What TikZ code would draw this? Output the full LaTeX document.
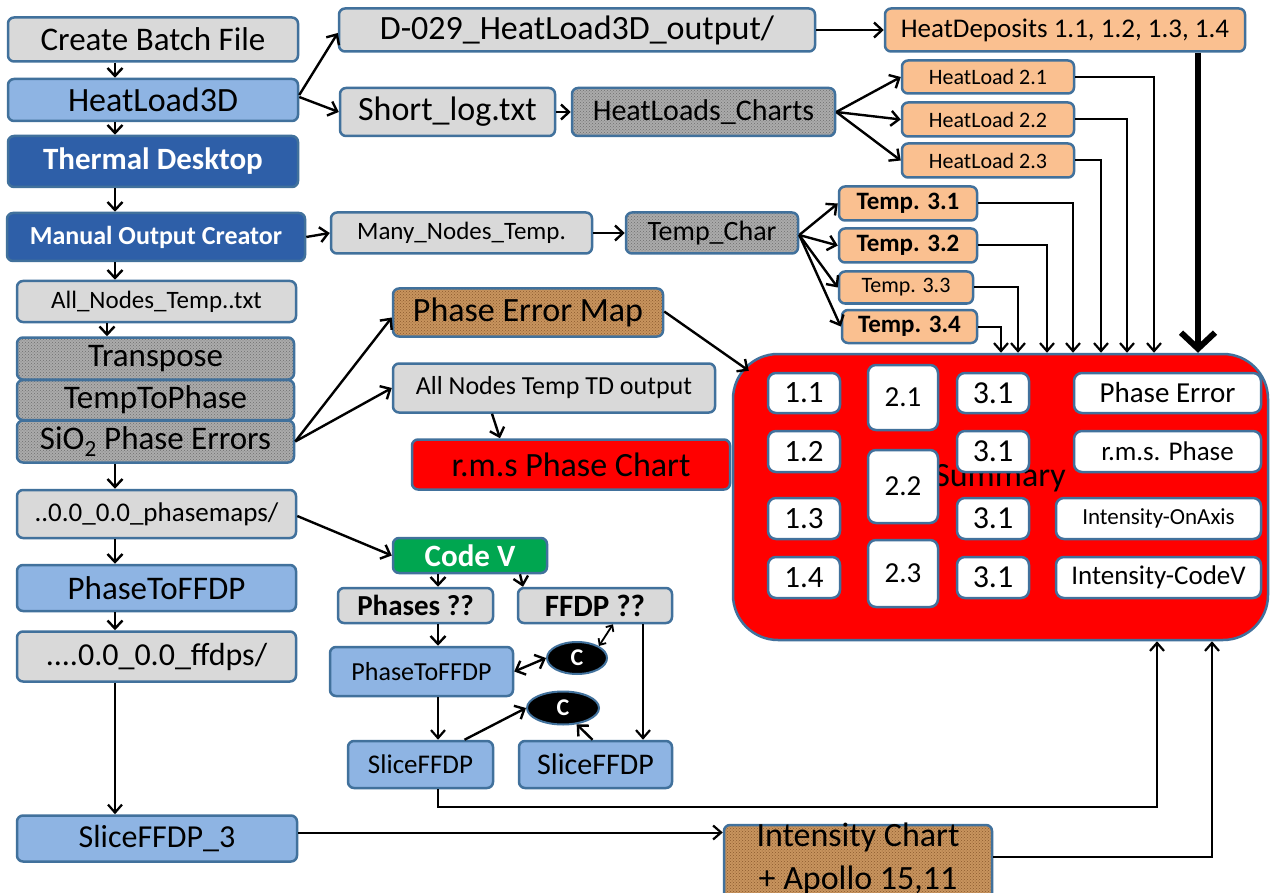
\documentclass[tikz,border=0pt]{standalone}
\usepackage{fontspec}
\setmainfont{Carlito}
\usetikzlibrary{arrows.meta,shapes.geometric,patterns}
\definecolor{bord}{HTML}{41719C}
\definecolor{lgray}{HTML}{D9D9D9}
\definecolor{lblue}{HTML}{8EB4E3}
\definecolor{dblue}{HTML}{2E5FA8}
\definecolor{peach}{HTML}{FAC090}
\definecolor{tgray}{HTML}{ABABAB}
\definecolor{tdots}{HTML}{6E6E6E}
\definecolor{brn}{HTML}{C8945E}
\definecolor{brndots}{HTML}{8A5A2E}
\definecolor{cvgreen}{HTML}{00A650}
\newcommand\fsz[1]{\fontsize{#1}{#1}\selectfont}
\begin{document}
\begin{tikzpicture}[x=1pt,y=-1pt,
  base/.style={draw=bord,line width=2.5pt,rounded corners=6pt,inner sep=0pt,text=black},
  gbox/.style={base,fill=lgray},
  bbox/.style={base,fill=lblue},
  dbox/.style={base,fill=dblue,text=white},
  obox/.style={base,fill=peach},
  tbox/.style={base,preaction={fill=tgray},pattern=crosshatch dots,pattern color=tdots},
  brbox/.style={base,preaction={fill=brn},pattern=crosshatch dots,pattern color=brndots},
  rbox/.style={base,fill=red},
  wbox/.style={base,fill=white,rounded corners=8pt},
  cvbox/.style={base,fill=cvgreen,text=white},
  cel/.style={ellipse,draw=bord,line width=2pt,fill=black,text=white,inner sep=0pt,font=\bfseries\fsz{24}},
  arr/.style={-{Straight Barb[length=8pt,width=15pt,line width=2.4pt]},line width=2.4pt,black},
  darr/.style={{Straight Barb[length=8pt,width=15pt,line width=2.4pt]}-{Straight Barb[length=8pt,width=15pt,line width=2.4pt]},line width=2.4pt,black},
  sarr/.style={-{Straight Barb[length=8pt,width=14pt,line width=2.2pt]},line width=2pt,black},
  thick arr/.style={-{Straight Barb[length=16pt,width=34pt,line width=6pt]},line width=5.5pt,black}]
\useasboundingbox (0,0) rectangle (1274,893);
\fill[white] (0,0) rectangle (1274,893);

% left column
\node[gbox,minimum width=290pt,minimum height=44pt,font=\fsz{33}] (cbf) at (153,39.5) {Create Batch File};
\node[bbox,minimum width=290pt,minimum height=42pt,font=\fsz{34}] (hl3d) at (153,100) {HeatLoad3D};
\node[dbox,minimum width=290pt,minimum height=51pt,font=\bfseries\fsz{31}] (td) at (153,161.5) {Thermal Desktop};
\node[dbox,minimum width=298pt,minimum height=48pt,font=\bfseries\fsz{26}] (moc) at (156,237) {Manual Output Creator};
\node[gbox,minimum width=279pt,minimum height=41pt,font=\fsz{25}] (ant) at (156.5,301.5) {All\_Nodes\_Temp..txt};
\node[tbox,minimum width=277pt,minimum height=42pt,font=\fsz{33}] (trans) at (155.5,358.5) {Transpose};
\node[tbox,minimum width=277pt,minimum height=40pt,font=\fsz{33}] (t2p) at (155.5,400) {TempToPhase};
\node[tbox,minimum width=277pt,minimum height=42pt,font=\fsz{33}] (sio) at (155.5,441.5) {SiO\textsubscript{2} Phase Errors};
\node[gbox,minimum width=279pt,minimum height=48pt,font=\fsz{27}] (pm) at (156.5,514) {..0.0\_0.0\_phasemaps/};
\node[bbox,minimum width=279pt,minimum height=46pt,font=\fsz{33}] (p2f) at (156.5,588) {PhaseToFFDP};
\node[gbox,minimum width=279pt,minimum height=50pt,font=\fsz{32}] (ffd) at (156.5,656.5) {....0.0\_0.0\_ffdps/};
\node[bbox,minimum width=280pt,minimum height=46pt,font=\fsz{32}] (sf3) at (157,838.5) {SliceFFDP\_3};

% top middle
\node[gbox,minimum width=476pt,minimum height=43pt,font=\fsz{34}] (d029) at (577,30) {D-029\_HeatLoad3D\_output/};
\node[gbox,minimum width=215pt,minimum height=48pt,font=\fsz{34}] (slog) at (447.5,112) {Short\_log.txt};
\node[tbox,minimum width=263pt,minimum height=48pt,font=\fsz{30}] (hlc) at (703.5,112) {HeatLoads\_Charts};
\node[gbox,minimum width=261pt,minimum height=41pt,font=\fsz{25}] (mnt) at (461.5,233) {Many\_Nodes\_Temp.};
\node[tbox,minimum width=172pt,minimum height=41pt,font=\fsz{28}] (tch) at (712,233) {Temp\_Char};

% top right
\node[obox,minimum width=360pt,minimum height=43pt,font=\fsz{27}] (hd) at (1065,30) {HeatDeposits 1.1, 1.2, 1.3, 1.4};
\node[obox,minimum width=172pt,minimum height=33pt,font=\fsz{22}] (hl21) at (988,77) {HeatLoad 2.1};
\node[obox,minimum width=172pt,minimum height=34pt,font=\fsz{22}] (hl22) at (988,119.5) {HeatLoad 2.2};
\node[obox,minimum width=172pt,minimum height=34pt,font=\fsz{22}] (hl23) at (988,160.5) {HeatLoad 2.3};
\node[obox,minimum width=138pt,minimum height=34pt,font=\bfseries\fsz{25}] (t31) at (908,203.5) {Temp. 3.1};
\node[obox,minimum width=138pt,minimum height=34pt,font=\bfseries\fsz{25}] (t32) at (908,245.5) {Temp. 3.2};
\node[obox,minimum width=134pt,minimum height=32pt,font=\fsz{22}] (t33) at (906,287.5) {Temp. 3.3};
\node[obox,minimum width=135pt,minimum height=33pt,font=\bfseries\fsz{25}] (t34) at (909.5,326.5) {Temp. 3.4};

% middle
\node[brbox,minimum width=270pt,minimum height=48pt,font=\fsz{34}] (pem) at (528,312.5) {Phase Error Map};
\node[gbox,minimum width=322pt,minimum height=49pt,font=\fsz{26}] (antd) at (554,388) {All Nodes Temp TD output};
\node[rbox,minimum width=318pt,minimum height=50pt,font=\fsz{34}] (rms) at (571,464.5) {r.m.s Phase Chart};

% summary
\node[base,fill=red,rounded corners=45pt,minimum width=535pt,minimum height=286pt] (sum) at (1000.5,497) {};
\node[font=\fsz{34},inner sep=0pt] (suml) at (1000,478) {Summary};
\node[wbox,minimum width=72pt,minimum height=40pt,font=\fsz{31}] (s11) at (804,393) {1.1};
\node[wbox,minimum width=72pt,minimum height=41pt,font=\fsz{31}] (s12) at (804,451.5) {1.2};
\node[wbox,minimum width=72pt,minimum height=41pt,font=\fsz{31}] (s13) at (804,518.5) {1.3};
\node[wbox,minimum width=72pt,minimum height=41pt,font=\fsz{31}] (s14) at (804,577.5) {1.4};
\node[wbox,minimum width=70pt,minimum height=65pt,font=\fsz{29}] (s21) at (903,397.5) {2.1};
\node[wbox,minimum width=70pt,minimum height=73pt,font=\fsz{29}] (s22) at (903,486.5) {2.2};
\node[wbox,minimum width=70pt,minimum height=67pt,font=\fsz{29}] (s23) at (903,573.5) {2.3};
\node[wbox,minimum width=72pt,minimum height=40pt,font=\fsz{32}] (s31) at (993,393) {3.1};
\node[wbox,minimum width=72pt,minimum height=41pt,font=\fsz{32}] (s32) at (993,451.5) {3.1};
\node[wbox,minimum width=72pt,minimum height=41pt,font=\fsz{32}] (s33) at (993,518.5) {3.1};
\node[wbox,minimum width=72pt,minimum height=41pt,font=\fsz{32}] (s34) at (993,577.5) {3.1};
\node[wbox,minimum width=187pt,minimum height=40pt,font=\fsz{29}] (spe) at (1167.5,393) {Phase Error};
\node[wbox,minimum width=187pt,minimum height=41pt,font=\fsz{27}] (srms) at (1167.5,451.5) {r.m.s. Phase};
\node[wbox,minimum width=205pt,minimum height=41pt,font=\fsz{23}] (sona) at (1158.5,518.5) {Intensity-OnAxis};
\node[wbox,minimum width=205pt,minimum height=41pt,font=\fsz{27}] (scv) at (1158.5,577.5) {Intensity-CodeV};

% Code V cluster
\node[cvbox,minimum width=154pt,minimum height=35pt,font=\bfseries\fsz{31}] (cv) at (470,555.5) {Code V};
\node[gbox,minimum width=155pt,minimum height=35pt,font=\bfseries\fsz{29}] (ph) at (415.5,605.5) {Phases ??};
\node[gbox,minimum width=154pt,minimum height=35pt,font=\bfseries\fsz{31}] (ff) at (595,605.5) {FFDP ??};
\node[bbox,minimum width=183pt,minimum height=49pt,font=\fsz{26}] (p2fs) at (421.5,671.5) {PhaseToFFDP};
\node[cel,minimum width=60pt,minimum height=32pt] (c1) at (577,658) {C};
\node[cel,minimum width=72pt,minimum height=33pt] (c2) at (563,708) {C};
\node[bbox,minimum width=145pt,minimum height=47pt,font=\fsz{27}] (sfl) at (420.5,764.5) {SliceFFDP};
\node[bbox,minimum width=153pt,minimum height=47pt,font=\fsz{30}] (sfr) at (595.5,764.5) {SliceFFDP};

% intensity chart
\node[brbox,minimum width=268pt,minimum height=80pt] (ic) at (858,865) {};
\node[align=center,inner sep=0pt,font=\fontsize{34}{43}\selectfont] (icl) at (858,858.5) {Intensity Chart\\+ Apollo 15,11};

% helper coordinates
\coordinate (lx) at (115,0);
\coordinate (lx2) at (107,0);
\coordinate (cl) at (438,0);
\coordinate (cr) at (643,0);
\coordinate (a1) at (1001,0);
\coordinate (a2) at (1018,0);
\coordinate (a3) at (1047,0);
\coordinate (a4) at (1073,0);
\coordinate (a5) at (1101,0);
\coordinate (a6) at (1127,0);
\coordinate (a7) at (1154,0);
\coordinate (a8) at (1198,0);
\coordinate (b1) at (1157,807);
\coordinate (b2) at (1212,0);

% left column arrows
\draw[arr] (cbf.south -| lx) -- (hl3d.north -| lx);
\draw[arr] (hl3d.south -| lx) -- (td.north -| lx);
\draw[arr] (td.south -| lx) -- (moc.north -| lx);
\draw[arr] (moc.south -| lx) -- (ant.north -| lx);
\draw[arr] (ant.south -| lx2) -- (trans.north -| lx2);
\draw[arr] (sio.south -| lx) -- (pm.north -| lx);
\draw[arr] (pm.south -| lx) -- (p2f.north -| lx);
\draw[arr] (p2f.south -| lx) -- (ffd.north -| lx);
\draw[sarr] (ffd.south -| lx) -- (sf3.north -| lx);

% top connectors
\draw[arr] ([yshift=5pt]hl3d.east) -- ([yshift=-3pt]d029.west);
\draw[arr] ([yshift=3pt]hl3d.east) -- (slog.west);
\draw[arr] (d029.east) -- (hd.west);
\draw[arr] (slog.east) -- (hlc.west);
\draw[arr] (hlc.east) -- (hl21.west);
\draw[arr] (hlc.east) -- (hl22.west);
\draw[arr] (hlc.east) -- (hl23.west);
\draw[arr] (moc.east) -- (mnt.west);
\draw[arr] (mnt.east) -- (tch.west);
\draw[arr] ([yshift=-2pt]tch.east) -- (t31.west);
\draw[arr] ([yshift=-2pt]tch.east) -- (t32.west);
\draw[arr] ([yshift=-2pt]tch.east) -- (t33.west);
\draw[arr] ([yshift=-2pt]tch.east) -- (t34.west);

% into summary from top
\draw[sarr] (t34.east) -| (a1 |- sum.north);
\draw[sarr] (t33.east) -| (a2 |- sum.north);
\draw[sarr] (t32.east) -| (a3 |- sum.north);
\draw[sarr] (t31.east) -| (a4 |- sum.north);
\draw[sarr] (hl23.east) -| (a5 |- sum.north);
\draw[sarr] (hl22.east) -| (a6 |- sum.north);
\draw[sarr] (hl21.east) -| (a7 |- sum.north);
\draw[thick arr] (hd.south -| a8) -- (a8 |- sum.north);

% middle connectors
\draw[arr] (sio.east) -- ([yshift=-5pt]pem.west);
\draw[arr] (sio.east) -- (antd.west);
\draw[arr] ([xshift=-62pt]antd.south) -- ([xshift=-71pt]rms.north);
\draw[arr] ([yshift=1pt]pem.east) -- ([xshift=17pt,yshift=-18pt]sum.north west);

% Code V cluster connectors
\draw[arr] ([yshift=-2pt]pm.east) -- (cv.west);
\draw[arr] (cv.south -| cl) -- (ph.north -| cl);
\draw[arr] ([xshift=50pt]cv.south) -- ([xshift=-72pt]ff.north);
\draw[arr] (ph.south -| cl) -- (p2fs.north -| cl);
\draw[line width=1.8pt,{Straight Barb[length=5pt,width=9pt,line width=1.8pt]}-{Straight Barb[length=5pt,width=9pt,line width=1.8pt]}] ([xshift=18pt]ff.south) -- (c1.north east);
\draw[darr] (p2fs.east) -- (c1.west);
\draw[sarr] (ff.south -| cr) -- (sfr.north -| cr);
\draw[sarr] (p2fs.south -| cl) -- (sfl.north -| cl);
\draw[arr] ([xshift=44pt]sfl.north) -- (c2.west);
\draw[arr] ([xshift=-3pt]sfr.north) -- (c2.-50);

% bottom connectors
\draw[sarr] (sfl.south -| cl) |- (b1) -- (b1 |- sum.south);
\draw[sarr] ([yshift=8pt]ic.east) -| (b2 |- sum.south);
\draw[sarr] ([yshift=6pt]sf3.east) -- ([yshift=6pt]sf3.east -| ic.west);
\end{tikzpicture}
\end{document}
